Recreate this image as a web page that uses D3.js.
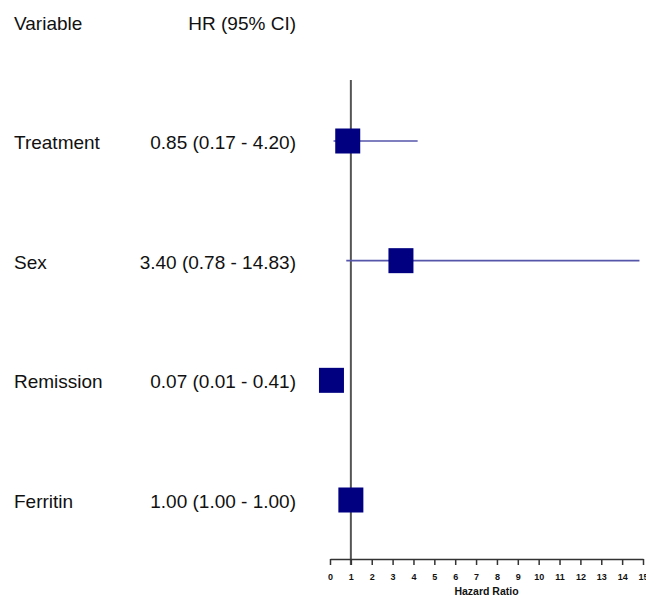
<!DOCTYPE html>
<html>
<head>
<meta charset="utf-8">
<script src="https://cdn.jsdelivr.net/npm/d3@7"></script>
<style>
  body { margin: 0; background: #fff; }
  svg { display: block; font-family: "Liberation Sans", Arial, sans-serif; }
</style>
</head>
<body>
<svg class="canvas" width="646" height="597"></svg>
<script>
var variables = ['Treatment', 'Sex', 'Remission', 'Ferritin'];
var hr = [0.85, 3.40, 0.07, 1.00];
var ci_low = [0.17, 0.78, 0.01, 1.00];
var ci_high = [4.20, 14.83, 0.41, 1.00];
var hr_labels = ['0.85 (0.17 - 4.20)', '3.40 (0.78 - 14.83)', '0.07 (0.01 - 0.41)', '1.00 (1.00 - 1.00)'];
var tick_values = d3.range(0, 16);

var svg = d3.select('.canvas');
var axis_y = 559;
var box = 25;
var font_size = 19;

var x = d3.scaleLinear().domain([0, 15]).range([330, 643]);
var y = d3.scalePoint().domain(variables).range([141, 500]);

var rows = variables.map(function(v, i) {
	return { name: v, hr: hr[i], lo: ci_low[i], hi: ci_high[i], label: hr_labels[i] };
});

// header
svg.append('text')
	.attr('x', 14).attr('y', 29.5)
	.attr('font-size', font_size).attr('fill', '#111')
	.text('Variable');
svg.append('text')
	.attr('x', 296).attr('y', 29.5)
	.attr('text-anchor', 'end')
	.attr('font-size', font_size).attr('fill', '#111')
	.text('HR (95% CI)');

// row labels
var labels = svg.append('g');
labels.selectAll('text.var')
	.data(rows).enter().append('text')
	.attr('class', 'var')
	.attr('x', 14)
	.attr('y', function(d) { return y(d.name) + 8; })
	.attr('font-size', font_size).attr('fill', '#111')
	.text(function(d) { return d.name; });
labels.selectAll('text.hr')
	.data(rows).enter().append('text')
	.attr('class', 'hr')
	.attr('x', 296)
	.attr('y', function(d) { return y(d.name) + 8; })
	.attr('text-anchor', 'end')
	.attr('font-size', font_size).attr('fill', '#111')
	.text(function(d) { return d.label; });

// reference line at 1
svg.append('line')
	.attr('x1', x(1)).attr('x2', x(1))
	.attr('y1', 80).attr('y2', axis_y + 6)
	.attr('stroke', '#555').attr('stroke-width', 2);

// confidence intervals
svg.append('g').selectAll('line')
	.data(rows).enter().append('line')
	.attr('x1', function(d) { return x(d.lo); })
	.attr('x2', function(d) { return x(d.hi); })
	.attr('y1', function(d) { return y(d.name); })
	.attr('y2', function(d) { return y(d.name); })
	.attr('stroke', '#5555aa').attr('stroke-width', 1.6);

// point estimates
svg.append('g').selectAll('rect')
	.data(rows).enter().append('rect')
	.attr('x', function(d) { return x(d.hr) - box / 2; })
	.attr('y', function(d) { return y(d.name) - box / 2; })
	.attr('width', box).attr('height', box)
	.attr('fill', '#000080');

// x axis
var axis = svg.append('g')
	.attr('transform', 'translate(0,' + axis_y + ')')
	.call(d3.axisBottom(x).tickValues(tick_values).tickSize(6).tickSizeOuter(0).tickPadding(9));
axis.select('.domain').attr('stroke', '#333').attr('stroke-width', 1.5);
axis.selectAll('.tick line').attr('stroke', '#333').attr('stroke-width', 1.5);
axis.selectAll('.tick text')
	.attr('font-family', '"Liberation Sans", Arial, sans-serif')
	.attr('font-size', 9).attr('font-weight', 'bold').attr('fill', '#111');

svg.append('text')
	.attr('x', (x(0) + x(15)) / 2).attr('y', 595)
	.attr('text-anchor', 'middle')
	.attr('font-size', 10.5).attr('font-weight', 'bold').attr('fill', '#111')
	.text('Hazard Ratio');
</script>
</body>
</html>
